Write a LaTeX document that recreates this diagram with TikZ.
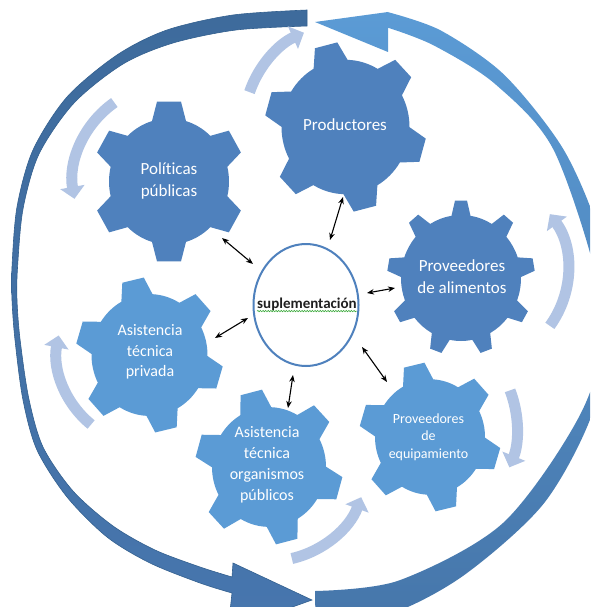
\documentclass[tikz,border=0pt]{standalone}
\usepackage{fontspec}
\setmainfont{Carlito}[Ligatures=NoCommon]
\usetikzlibrary{arrows.meta,decorations.pathmorphing,shapes.geometric,calc}
\definecolor{gdark}{HTML}{4F81BD}
\definecolor{glight}{HTML}{5B9BD5}
\definecolor{ringdark}{HTML}{3E6B9C}
\definecolor{ringdarkb}{HTML}{4776AE}
\definecolor{ringline}{HTML}{33608F}
\definecolor{ringlight}{HTML}{5B9BD5}
\definecolor{ringlightb}{HTML}{4676AA}
\definecolor{cyc}{HTML}{B1C4E4}
\definecolor{spell}{HTML}{3DAA3D}
% #1 cx, #2 cy, #3 teeth, #4 rotation, #5 tip r, #6 body r, #7 tip half width, #8 base half width, #9 colour
\newcommand{\drawgear}[9]{%
\begin{scope}[shift={(#1,#2)}, yscale=-1.05]
 \pgfmathsetmacro\gta{asin(#7/#5)}
 \pgfmathsetmacro\gba{asin(#8/#6)}
 \pgfmathsetmacro\gst{360/#3}
 \fill[#9] ({#4-\gba}:#6)
   \foreach \k [evaluate=\k as \gang using #4+(\k-1)*\gst] in {1,...,#3} {
     -- ({\gang-\gba}:#6) -- ({\gang-\gta}:#5) -- ({\gang+\gta}:#5) -- ({\gang+\gba}:#6)
     arc[start angle={\gang+\gba}, end angle={\gang+\gst-\gba}, radius=#6]
   } -- cycle;
\end{scope}}
\begin{document}
\begin{tikzpicture}[x=1pt,y=-1pt,
  gtext/.style={text=white, align=center, font=\fontsize{17}{22}\selectfont, inner sep=0pt},
  dbl/.style={{Stealth[length=7pt,width=5.5pt]}-{Stealth[length=7pt,width=5.5pt]}, line width=1.1pt, black},
  cycarrow/.style={line width=11pt, cyc, -{Triangle[width=24pt,length=12pt]}}]
\useasboundingbox (0,0) rectangle (590,607);
\clip (0,0) rectangle (590,607);
\fill[white] (0,0) rectangle (590,607);

% big ring, right (light) arc
\shade[top color=ringlight, bottom color=ringlightb]
  (315,22) -- (388,12) -- plot[smooth] coordinates {(388.2,12.2) (440.8,30.5) (504.1,74.7) (562.7,148.1) (597.8,228.9) (610,306) (593.8,409.3) (544.4,502.7) (465,574.5) (392.3,613.2) (315.6,626)}
  -- (315,591) -- plot[smooth] coordinates {(315,591) (399.2,580.4) (504.3,521.8) (584.4,405.9) (602,306) (555.1,152.9) (495.8,84.6) (433.7,45.4) (388,27.7)}
  -- (388,52) -- cycle;

% big ring, left (dark) arc
\shade[top color=ringdark, bottom color=ringdarkb, draw=ringline, line width=0.6pt]
  (307,10) -- (307,26) -- plot[smooth] coordinates {(307,26) (236,30) (173,43) (123,64) (74,103) (39,154) (23,209) (17.5,268) (17,300) (20,339) (28.7,398) (43,447) (73,491) (113,526) (155,550) (200,567) (232,577)}
  -- (233,563) -- (312,600) -- (228,630) -- (232,593)
  -- plot[smooth] coordinates {(232,593) (200,583) (150,563) (107,537) (67,497) (37,450) (23,400) (15,340) (12,300) (12,267) (17,207) (33,150) (67,97) (117,55) (167,30) (233,15) (307,10)}
  -- cycle;

% small cycle arrows
\draw[cycarrow] (345,125) ++(-161:101) arc[start angle=-161, end angle=-114, radius=101];
\draw[cycarrow] (170,182) ++(-125:97) arc[start angle=-125, end angle=-190, radius=97];
\draw[cycarrow] (149,353) ++(-231:92) arc[start angle=-231, end angle=-169, radius=92];
\draw[cycarrow] (270,464) ++(77:97) arc[start angle=77, end angle=20, radius=97];
\draw[cycarrow] (412,428) ++(-21:105) arc[start angle=-21, end angle=22, radius=105];
\draw[cycarrow] (473,270) ++(36:95) arc[start angle=36, end angle=-36, radius=95];

% gears
\drawgear{345.5}{127}{6}{104}{81}{64}{11.5}{17.5}{gdark}
\drawgear{169}{181.5}{6}{90}{77}{60}{12}{17}{gdark}
\drawgear{461}{278}{9}{90}{74}{60}{6}{9.5}{gdark}
\drawgear{149.5}{355}{6}{103}{74}{58}{11}{16}{glight}
\drawgear{269}{467}{6}{104}{74}{57}{11}{16}{glight}
\drawgear{430}{437}{6}{103}{71}{55}{10.5}{15.5}{glight}

% gear labels
\node[gtext] (prod) at (345,125) {Productores};
\node[gtext] (pol) at (169,181) {Políticas\\públicas};
\node[gtext] (alim) at (462,277) {Proveedores\\de alimentos};
\node[gtext, font=\fontsize{16}{20.5}\selectfont] (priv) at (150,352) {Asistencia\\técnica\\privada};
\node[gtext, font=\fontsize{16}{21}\selectfont] (org) at (267,465) {Asistencia\\técnica\\organismos\\públicos};
\node[gtext, font=\fontsize{14}{17.5}\selectfont] (equip) at (428.5,437) {Proveedores\\de\\equipamiento};

% centre
\node[draw=gdark, line width=2pt, fill=white, ellipse, minimum width=105pt, minimum height=122pt, inner sep=0pt] (sup) at (306,305) {};
\node[font=\bfseries\fontsize{15}{18}\selectfont, text=black!88, inner sep=0pt] (suptxt) at (307,304) {suplementación};
\draw[spell, line width=0.6pt, decorate, decoration={snake, amplitude=0.7pt, segment length=2.6pt}]
  ($(suptxt.base west)+(0,3)$) -- ($(suptxt.base east)+(0,3)$);

% double arrows
\coordinate (a1g) at (222,238); \coordinate (a1s) at (253,264);
\coordinate (a2g) at (343,197); \coordinate (a2s) at (330,240);
\coordinate (a3s) at (367,293); \coordinate (a3g) at (395,288);
\coordinate (a4g) at (215,338); \coordinate (a4s) at (248,318);
\coordinate (a5s) at (293,375); \coordinate (a5g) at (288,408);
\coordinate (a6s) at (362,347); \coordinate (a6g) at (387,382);
\draw[dbl] (a1g) -- (a1s);
\draw[dbl] (a2g) -- (a2s);
\draw[dbl] (a3s) -- (a3g);
\draw[dbl] (a4g) -- (a4s);
\draw[dbl] (a5s) -- (a5g);
\draw[dbl] (a6s) -- (a6g);
\end{tikzpicture}
\end{document}
